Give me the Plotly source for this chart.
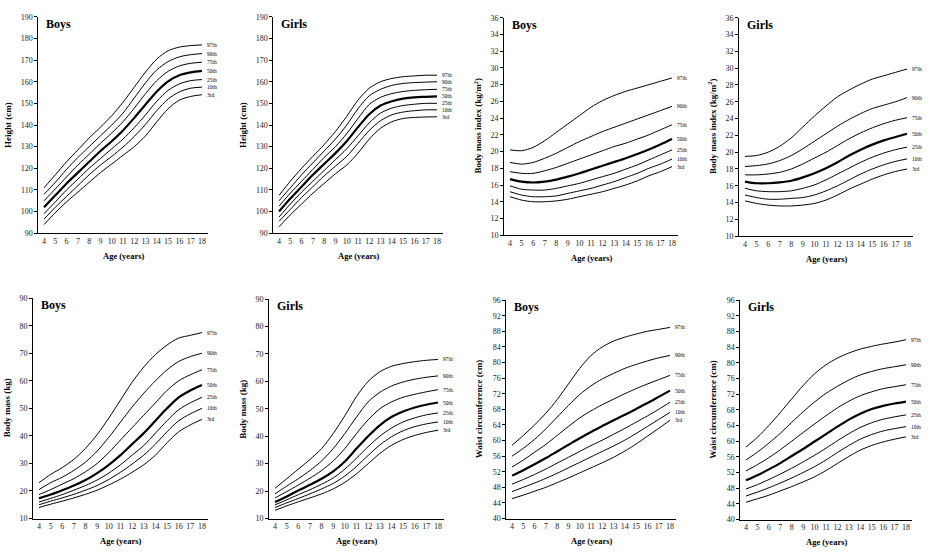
import plotly.graph_objects as go

ages = list(range(4, 19))
pct_labels = ["97th", "90th", "75th", "50th", "25th", "10th", "3rd"]

height_boys = {
    "97th": [111, 117, 123, 128.5, 134, 139, 144.3, 150.5, 157.5, 164.5, 170.5, 174.3, 176, 176.7, 177],
    "90th": [108, 113.5, 119.5, 125, 130, 135, 140, 145.5, 152.5, 159.5, 165.5, 169.3, 171.5, 172.5, 173],
    "75th": [105, 110.5, 116, 121.5, 126.5, 131.5, 136.3, 141.5, 147.8, 154.5, 160.5, 164.8, 167.3, 168.5, 169],
    "50th": [102, 107.5, 113, 118, 123, 128, 132.5, 137.5, 143.3, 149.5, 155.5, 160.2, 163, 164.3, 165],
    "25th": [99, 104.5, 110, 115, 120, 124.5, 129, 133.5, 138.8, 144.7, 151, 156, 159, 160.5, 161],
    "10th": [96.5, 102, 107, 112, 117, 121.5, 125.5, 129.8, 134.7, 140.3, 146.7, 152, 155.3, 157, 157.5],
    "3rd":  [94, 99.5, 104.5, 109, 113.5, 118, 122, 126, 130, 135, 141.5, 147.5, 151.5, 153.2, 154],
}
height_girls = {
    "97th": [107.5, 114, 120, 125.5, 131, 137, 144, 151.5, 157, 160, 161.5, 162.3, 162.7, 163, 163],
    "90th": [105, 111, 117, 122.5, 128, 133.5, 140, 147.5, 153.5, 156.5, 158.3, 159.2, 159.6, 159.8, 160],
    "75th": [102.5, 108.5, 114, 119.5, 125, 130, 136, 143, 149.5, 152.8, 154.5, 155.5, 156, 156.3, 156.5],
    "50th": [100, 106, 111.5, 117, 122, 127, 132.5, 139, 145, 149, 151, 152.2, 152.8, 153, 153.2],
    "25th": [97.5, 103.5, 109, 114, 119, 124, 129, 135, 141, 145.5, 147.8, 149, 149.6, 150, 150],
    "10th": [95.5, 101, 106.5, 111.5, 116.5, 121, 125.5, 131.5, 137.5, 142, 144.7, 146, 146.6, 147, 147],
    "3rd":  [93, 98.5, 103.5, 108.5, 113, 117.5, 121.5, 127, 133.5, 138.5, 141.5, 143, 143.5, 143.7, 143.8],
}
bmi_boys = {
    "97th": [20.2, 20.1, 20.5, 21.3, 22.3, 23.3, 24.3, 25.3, 26.1, 26.7, 27.2, 27.6, 28.0, 28.4, 28.8],
    "90th": [18.7, 18.5, 18.7, 19.2, 19.8, 20.5, 21.2, 21.8, 22.4, 22.9, 23.4, 23.9, 24.4, 24.9, 25.4],
    "75th": [17.6, 17.4, 17.4, 17.7, 18.1, 18.6, 19.1, 19.6, 20.1, 20.6, 21.0, 21.5, 22.0, 22.6, 23.2],
    "50th": [16.7, 16.4, 16.3, 16.4, 16.65, 17.0, 17.4, 17.85, 18.3, 18.75, 19.2, 19.7, 20.25, 20.85, 21.5],
    "25th": [15.9, 15.5, 15.4, 15.4, 15.6, 15.9, 16.2, 16.6, 17.0, 17.4, 17.9, 18.4, 19.0, 19.6, 20.2],
    "10th": [15.2, 14.8, 14.6, 14.6, 14.7, 15.0, 15.3, 15.6, 16.0, 16.4, 16.9, 17.4, 18.0, 18.5, 19.1],
    "3rd":  [14.6, 14.2, 14.0, 14.0, 14.1, 14.3, 14.6, 14.9, 15.2, 15.6, 16.0, 16.5, 17.1, 17.6, 18.2],
}
bmi_girls = {
    "97th": [19.5, 19.6, 20.0, 20.7, 21.7, 23.0, 24.3, 25.5, 26.6, 27.4, 28.1, 28.7, 29.1, 29.5, 29.9],
    "90th": [18.3, 18.4, 18.6, 19.0, 19.6, 20.4, 21.3, 22.2, 23.1, 23.9, 24.6, 25.2, 25.6, 26.0, 26.5],
    "75th": [17.3, 17.3, 17.4, 17.6, 18.0, 18.6, 19.3, 20.0, 20.8, 21.6, 22.3, 22.9, 23.4, 23.8, 24.1],
    "50th": [16.5, 16.3, 16.3, 16.4, 16.6, 17.0, 17.5, 18.1, 18.8, 19.6, 20.3, 20.9, 21.4, 21.8, 22.2],
    "25th": [15.7, 15.4, 15.3, 15.3, 15.4, 15.7, 16.1, 16.7, 17.4, 18.1, 18.8, 19.4, 19.9, 20.3, 20.6],
    "10th": [14.9, 14.6, 14.4, 14.4, 14.5, 14.6, 14.9, 15.4, 16.0, 16.7, 17.4, 18.0, 18.5, 18.9, 19.2],
    "3rd":  [14.2, 13.9, 13.7, 13.6, 13.6, 13.7, 13.9, 14.3, 14.9, 15.6, 16.2, 16.8, 17.3, 17.7, 18.0],
}
mass_boys = {
    "97th": [23, 26, 28.5, 31.5, 35.5, 40.5, 46.5, 53, 59.5, 65, 69.5, 73, 75.5, 76.5, 77.5],
    "90th": [20.5, 23, 25, 27.5, 30.5, 34.5, 39.5, 45, 50.5, 55.5, 60, 64, 67, 68.8, 70],
    "75th": [18.7, 20.5, 22.5, 24.5, 27, 30, 34, 38.5, 43, 47.5, 52, 56.5, 60, 62.2, 64],
    "50th": [17.3, 18.7, 20.3, 22, 24, 26.5, 29.5, 33, 37, 41, 45.5, 50, 54, 56.5, 58.5],
    "25th": [16, 17.3, 18.7, 20.3, 22, 24, 26.5, 29.5, 33, 36.5, 41, 45.5, 49.5, 52, 54],
    "10th": [15, 16.3, 17.5, 18.8, 20.3, 22, 24.2, 26.8, 29.8, 33, 37, 41.5, 45.5, 48, 50],
    "3rd":  [14, 15.2, 16.3, 17.5, 18.8, 20.3, 22.2, 24.3, 26.8, 29.5, 33, 37.5, 41.5, 44, 46],
}
mass_girls = {
    "97th": [21, 24.5, 28, 31.5, 35.5, 41, 47.5, 54.5, 60, 63.5, 65.5, 66.5, 67.2, 67.7, 68],
    "90th": [19, 21.8, 24.5, 27.5, 31, 35.5, 41, 47, 52.5, 56, 58.3, 59.8, 60.8, 61.5, 62],
    "75th": [17.5, 19.8, 22.2, 24.7, 27.5, 31, 35.5, 41, 46, 50, 52.5, 54.2, 55.3, 56.2, 57],
    "50th": [16, 18, 20.2, 22.3, 24.5, 27.2, 30.8, 35.5, 40, 44, 47, 49, 50.5, 51.5, 52.3],
    "25th": [15, 16.8, 18.7, 20.5, 22.5, 24.8, 28, 32, 36.2, 40, 43, 45.2, 46.7, 47.8, 48.5],
    "10th": [14, 15.7, 17.3, 19, 20.8, 22.8, 25.5, 29, 33, 36.8, 39.8, 42, 43.5, 44.5, 45.2],
    "3rd":  [13, 14.6, 16.1, 17.5, 19, 20.8, 23.2, 26.3, 30, 33.7, 36.7, 38.8, 40.3, 41.4, 42.2],
}
waist_boys = {
    "97th": [58.8, 61.3, 64, 67, 70.5, 74.5, 78.5, 81.8, 84, 85.5, 86.5, 87.3, 88, 88.5, 89],
    "90th": [56, 58, 60.3, 63, 66, 69, 71.8, 74, 75.8, 77.2, 78.5, 79.5, 80.4, 81.2, 81.8],
    "75th": [53.2, 55, 57, 59, 61.3, 63.6, 65.8, 67.6, 69.2, 70.6, 72, 73.3, 74.5, 75.6, 76.7],
    "50th": [51, 52.4, 53.9, 55.5, 57.2, 58.9, 60.6, 62.2, 63.7, 65.2, 66.6, 68.1, 69.6, 71.2, 72.8],
    "25th": [48.8, 50, 51.3, 52.7, 54.2, 55.7, 57.2, 58.7, 60.1, 61.6, 63.1, 64.7, 66.3, 68, 69.8],
    "10th": [46.9, 48, 49.1, 50.3, 51.6, 53, 54.4, 55.8, 57.2, 58.6, 60.1, 61.8, 63.6, 65.4, 67.2],
    "3rd":  [45.1, 46, 47, 48, 49.2, 50.4, 51.7, 53, 54.3, 55.7, 57.3, 59.1, 61.1, 63.1, 65.2],
}
waist_girls = {
    "97th": [58.5, 61, 64, 67.3, 70.8, 74.2, 77.2, 79.5, 81.2, 82.5, 83.5, 84.2, 84.8, 85.3, 85.9],
    "90th": [55.2, 57.2, 59.5, 62, 64.8, 67.5, 70, 72.2, 74, 75.6, 76.9, 77.8, 78.5, 79, 79.5],
    "75th": [52.4, 54, 55.8, 57.8, 60, 62.2, 64.4, 66.5, 68.5, 70.2, 71.6, 72.6, 73.4, 73.9, 74.4],
    "50th": [50, 51.3, 52.8, 54.4, 56.2, 58, 59.9, 61.8, 63.7, 65.5, 67, 68.2, 69, 69.6, 70.1],
    "25th": [47.8, 48.9, 50.2, 51.6, 53.1, 54.7, 56.4, 58.2, 60.1, 61.9, 63.5, 64.7, 65.6, 66.2, 66.7],
    "10th": [46, 47, 48.1, 49.3, 50.6, 52, 53.5, 55.2, 57.1, 58.9, 60.5, 61.7, 62.6, 63.2, 63.7],
    "3rd":  [44.4, 45.3, 46.2, 47.3, 48.4, 49.6, 50.9, 52.5, 54.3, 56.1, 57.7, 58.9, 59.8, 60.5, 61.1],
}

W, H = 939, 555
FONT = "Liberation Serif"

# panel: data, sex, y title, y range, y dtick, pixel box (x_at_3.5, x_at_18.5, y_top, y_bottom), y-title x
panels = [
    (height_boys, "Boys", "Height (cm)", [90, 190], 10, (38.4, 207.6, 13, 233), 8),
    (height_girls, "Girls", "Height (cm)", [90, 190], 10, (273.4, 442.6, 13, 233), 243),
    (bmi_boys, "Boys", "Body mass index (kg/m<sup>2</sup>)", [10, 36], 2, (504.2, 677.8, 14, 235), 478),
    (bmi_girls, "Girls", "Body mass index (kg/m<sup>2</sup>)", [10, 36], 2, (739.2, 912.8, 14, 236), 712),
    (mass_boys, "Boys", "Body mass (kg)", [10, 90], 10, (33.2, 207.8, 299, 523), 7),
    (mass_girls, "Girls", "Body mass (kg)", [10, 90], 10, (269.2, 443.8, 300, 523), 243),
    (waist_boys, "Boys", "Waist circumference (cm)", [40, 96], 4, (506.4, 675.6, 301, 523), 479),
    (waist_girls, "Girls", "Waist circumference (cm)", [40, 96], 4, (740.3, 911.7, 301, 524), 713),
]

fig = go.Figure()
annotations = []
layout_axes = {}

for i, (data, sex, ytitle, yr, dt, box, ytx) in enumerate(panels):
    n = i + 1
    xa = "x" if n == 1 else f"x{n}"
    ya = "y" if n == 1 else f"y{n}"
    x0, x1, yt, yb = box
    xdom = [x0 / W, x1 / W]
    ydom = [1 - yb / H, 1 - yt / H]
    for lab in pct_labels:
        fig.add_trace(go.Scatter(
            x=ages, y=data[lab], mode="lines", xaxis=xa, yaxis=ya,
            line=dict(color="black", width=2.2 if lab == "50th" else 1, shape="spline", smoothing=0.8),
            showlegend=False, hoverinfo="skip"))
        annotations.append(dict(
            x=18, y=data[lab][-1], xref=xa, yref=ya, text=lab, showarrow=False,
            xanchor="left", yanchor="middle", xshift=3,
            font=dict(family=FONT, size=5.5, color="black")))
    axkey_x = "xaxis" if n == 1 else f"xaxis{n}"
    axkey_y = "yaxis" if n == 1 else f"yaxis{n}"
    layout_axes[axkey_x] = dict(
        domain=xdom, anchor=ya, range=[3.5, 18.5], tickvals=ages,
        showline=True, linecolor="black", linewidth=1, ticks="", showgrid=False,
        zeroline=False, fixedrange=True, tickfont=dict(family=FONT, size=8, color="#222"))
    layout_axes[axkey_y] = dict(
        domain=ydom, anchor=xa, range=yr, dtick=dt,
        showline=True, linecolor="black", linewidth=1, ticks="outside", ticklen=3,
        tickcolor="black", showgrid=False, zeroline=False, fixedrange=True,
        tickfont=dict(family=FONT, size=8, color="#222"))
    # axis titles
    annotations.append(dict(
        x=ytx / W, y=1 - ((yt + yb) / 2) / H, xref="paper", yref="paper",
        text=f"<b>{ytitle}</b>", textangle=-90, showarrow=False,
        xanchor="center", yanchor="middle",
        font=dict(family=FONT, size=9, color="black")))
    annotations.append(dict(
        x=((x0 + x1) / 2) / W, y=1 - (yb + 23) / H, xref="paper", yref="paper",
        text="<b>Age (years)</b>", showarrow=False, xanchor="center", yanchor="middle",
        font=dict(family=FONT, size=8.5, color="black")))
    annotations.append(dict(
        x=(x0 + 6) / W, y=1 - (yt + 7) / H, xref="paper", yref="paper",
        text=f"<b>{sex}</b>", showarrow=False, xanchor="left", yanchor="middle",
        font=dict(family=FONT, size=12, color="black")))

fig.update_layout(
    width=W, height=H, margin=dict(l=0, r=0, t=0, b=0),
    paper_bgcolor="white", plot_bgcolor="white",
    annotations=annotations, **layout_axes)

fig.write_html("out.html", config={"displayModeBar": False},
               post_script="document.body.style.margin='0';document.body.style.overflow='hidden';")
